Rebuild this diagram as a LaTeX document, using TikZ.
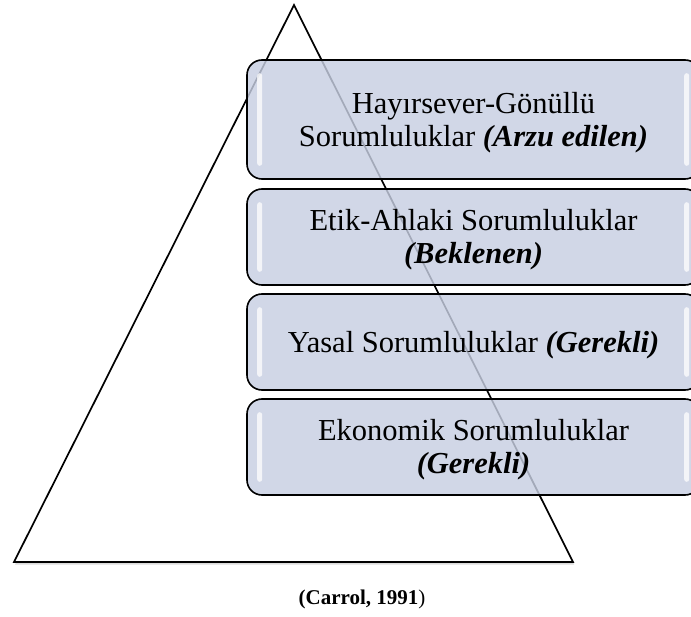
\documentclass[tikz,border=0pt]{standalone}
\usepackage{fontspec}
\setmainfont{Liberation Serif}
\usetikzlibrary{shadows,calc}
\definecolor{boxfill}{RGB}{199,207,226}
\begin{document}
\begin{tikzpicture}[x=1pt,y=-1pt,
  tri/.style={draw=black, line width=1.7pt, line join=miter, fill=white,
    drop shadow={shadow xshift=1pt, shadow yshift=-2.5pt, opacity=0.28}},
  box/.style={draw=black, line width=1.6pt, rounded corners=15pt, fill=boxfill,
    fill opacity=0.82, inner sep=0pt, minimum width=453pt},
  boxtxt/.style={align=center, inner sep=0pt, yshift=-3pt,
    font=\fontsize{30.5}{33}\selectfont},
  shine/.style={fill=white, opacity=0.75, rounded corners=2.5pt},
  captxt/.style={font=\fontsize{21}{25}\selectfont, anchor=base, inner sep=0pt}]
\useasboundingbox (0,0) rectangle (691,617);
\clip (0,0) rectangle (691,617);
\fill[white] (0,0) rectangle (691,617);
% pyramid
\coordinate (apex) at (294,5);
\coordinate (bl) at (14,562);
\coordinate (br) at (573,562);
\draw[tri] (apex) -- (br) -- (bl) -- cycle;
% boxes
\node[box, minimum height=119pt] (b1) at (473.5,119.5) {};
\node[box, minimum height=96pt] (b2) at (473.5,237) {};
\node[box, minimum height=96pt] (b3) at (473.5,342) {};
\node[box, minimum height=96pt] (b4) at (473.5,447) {};
% highlights
\foreach \b in {b1,b2,b3,b4}{
  \fill[shine] ($(\b.north west)+(11,14)$) rectangle ($(\b.south west)+(16,-14)$);
  \fill[shine] ($(\b.north west)+(438,14)$) rectangle ($(\b.south west)+(443,-14)$);
}
% texts
\node[boxtxt] (t1) at (b1.center)
  {Hayırsever-Gönüllü\\Sorumluluklar \textbf{\textit{(Arzu edilen)}}};
\node[boxtxt] (t2) at (b2.center)
  {Etik-Ahlaki Sorumluluklar\\\textbf{\textit{(Beklenen)}}};
\node[boxtxt] (t3) at (b3.center)
  {Yasal Sorumluluklar \textbf{\textit{(Gerekli)}}};
\node[boxtxt] (t4) at (b4.center)
  {Ekonomik Sorumluluklar\\\textbf{\textit{(Gerekli)}}};
% caption
\node[captxt] (cap) at (362,604) {\textbf{(Carrol, 1991})};
\end{tikzpicture}
\end{document}
